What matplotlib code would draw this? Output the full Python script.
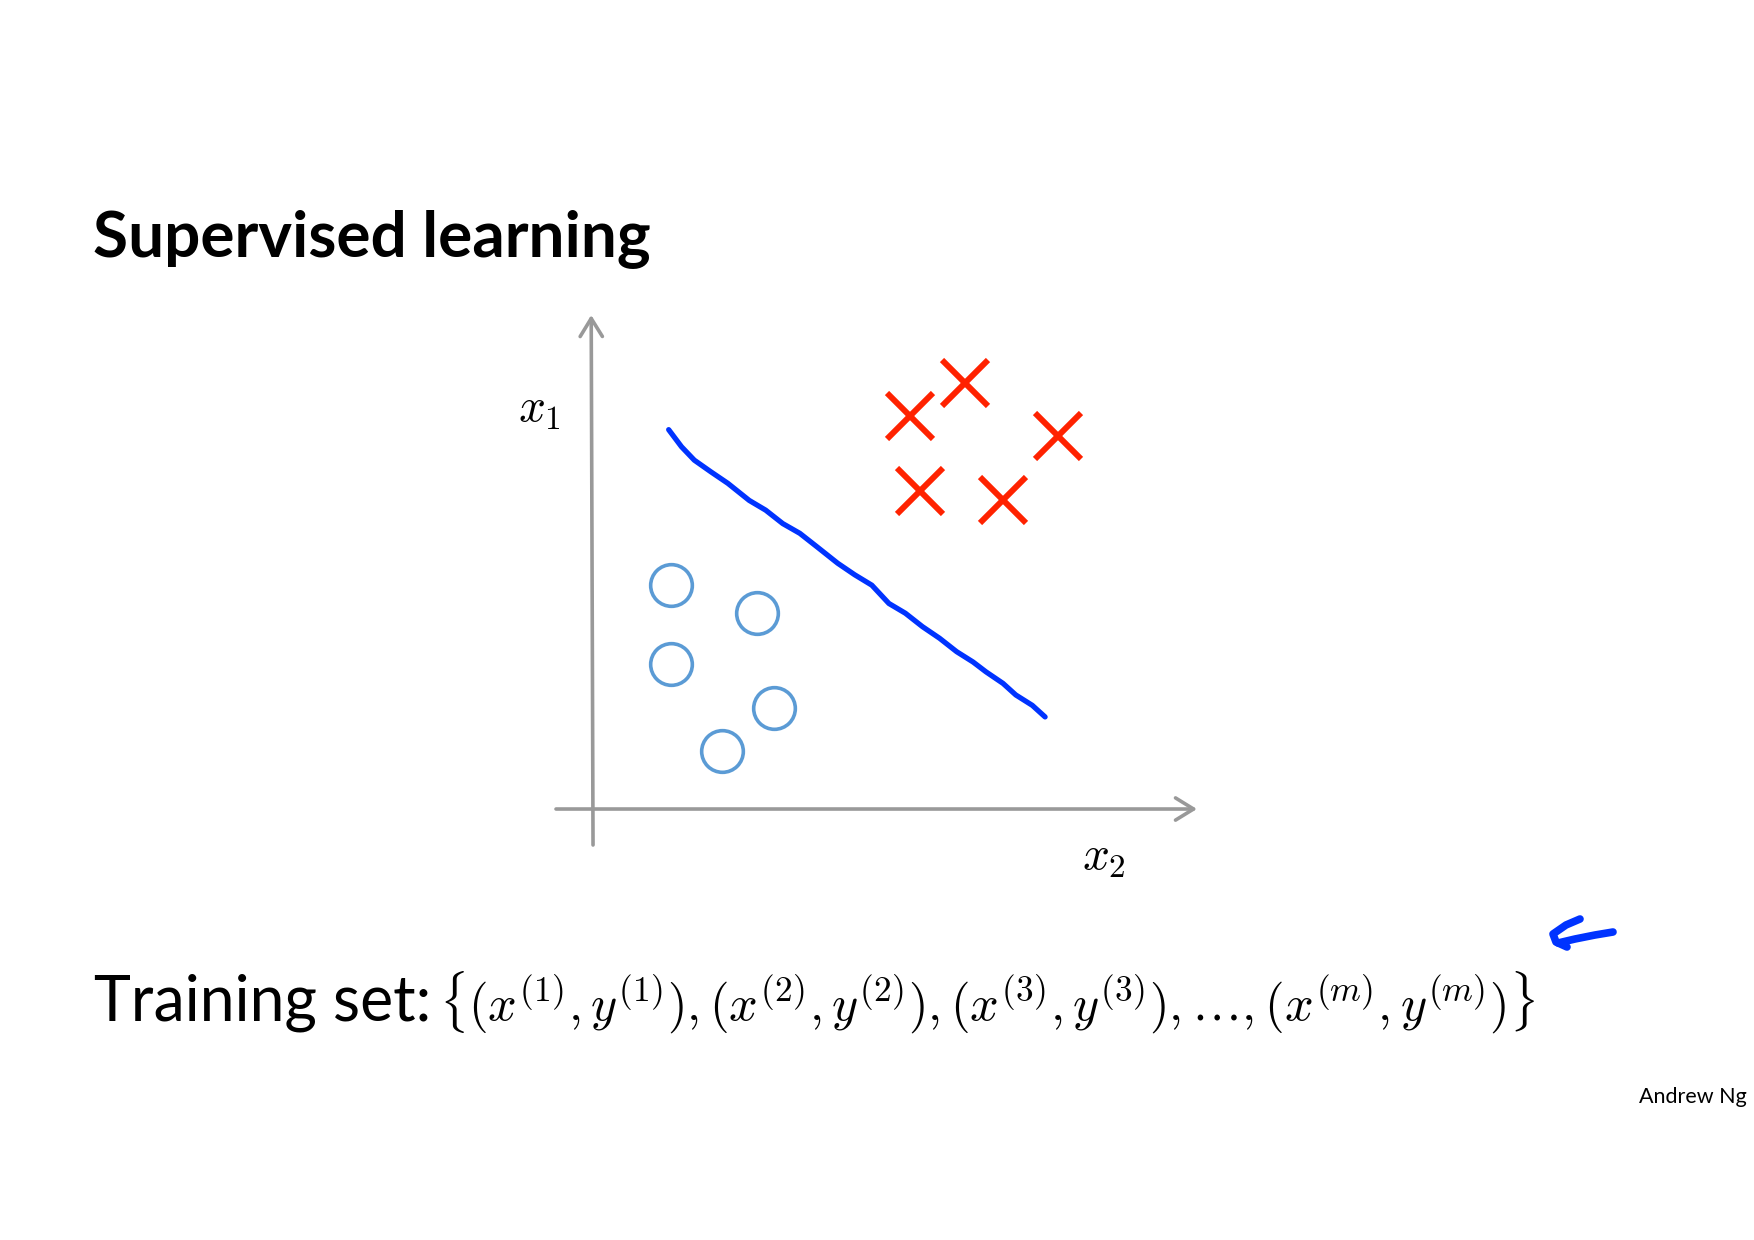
import numpy as np
import matplotlib
matplotlib.use("Agg")
import matplotlib.pyplot as plt

plt.rcParams['font.family'] = ['Lato', 'DejaVu Sans']
plt.rcParams['mathtext.fontset'] = 'cm'

W, H = 1754, 1240

# class 1 (crosses) and class 0 (circles), in x2 / x1 units
cross_x2 = [5.19, 6.10, 7.62, 5.36, 6.72]
cross_x1 = [6.44, 6.98, 6.11, 5.21, 5.06]
circle_x2 = [1.27, 2.69, 1.27, 2.97, 2.12]
circle_x1 = [3.67, 3.21, 2.38, 1.65, 0.95]

# hand drawn decision boundary
line_x2 = [1.24, 1.45, 1.66, 1.93, 2.21, 2.56, 2.83, 3.11, 3.39, 3.67, 4.01, 4.29,
           4.57, 4.85, 5.12, 5.40, 5.68, 5.96, 6.23, 6.44, 6.72, 6.93, 7.20, 7.41]
line_x1 = [6.22, 5.94, 5.72, 5.53, 5.34, 5.06, 4.90, 4.68, 4.52, 4.30, 4.03, 3.84,
           3.67, 3.37, 3.21, 2.99, 2.80, 2.58, 2.41, 2.25, 2.06, 1.87, 1.70, 1.51]

# little pen arrow next to the training set (pixel coords of the slide)
pen_shaft_x = [1613, 1595, 1575, 1558]
pen_shaft_y = [932, 935, 939, 943]
pen_hook_x = [1580, 1566, 1553, 1556, 1567]
pen_hook_y = [919, 925, 934, 942, 947]

title = "Supervised learning"
train_label = "Training set:"
train_math = (r"$\{(x^{(1)},y^{(1)}),(x^{(2)},y^{(2)}),(x^{(3)},y^{(3)}),"
              r"\ldots,(x^{(m)},y^{(m)})\}$")

fig = plt.figure(figsize=(W / 100, H / 100), dpi=100)
fig.patch.set_facecolor('white')

# overlay in slide pixels for the pen stroke
over = fig.add_axes([0, 0, 1, 1])
over.set_xlim(0, W)
over.set_ylim(H, 0)
over.axis('off')
over.plot(pen_shaft_x, pen_shaft_y, color='#0033ff', lw=5.5, solid_capstyle='round')
over.plot(pen_hook_x, pen_hook_y, color='#0033ff', lw=5.5, solid_capstyle='round',
          solid_joinstyle='round')

# the scatter plot
ax = fig.add_axes([556 / W, 1 - 845 / H, (1197 - 556) / W, (845 - 315) / H])
ax.set_xlim(-0.607, 9.90)
ax.set_ylim(-0.59, 8.10)
ax.axis('off')

gray = '#999999'
ax.annotate('', xy=(9.90, 0), xytext=(-0.607, 0),
            arrowprops=dict(arrowstyle='->,head_length=0.65,head_width=0.4',
                            color=gray, lw=2.6, shrinkA=0, shrinkB=0,
                            mutation_scale=20))
ax.annotate('', xy=(-0.03, 8.10), xytext=(0, -0.59),
            arrowprops=dict(arrowstyle='->,head_length=0.65,head_width=0.4',
                            color=gray, lw=2.6, shrinkA=0, shrinkB=0,
                            mutation_scale=20))

ax.plot(line_x2, line_x1, color='#0033ff', lw=3.8, solid_capstyle='round')
ax.plot(cross_x2, cross_x1, 'x', color='#ff2200', ms=33, mew=4.3)
ax.plot(circle_x2, circle_x1, 'o', mfc='none', mec='#5b9bd5', ms=30, mew=2.6)

fig.text(518 / W, 1 - 422 / H, r'$x_1$', fontsize=34, va='baseline')
fig.text(1082 / W, 1 - 870 / H, r'$x_2$', fontsize=34, va='baseline')

fig.text(93 / W, 1 - 256 / H, title, fontsize=46, fontweight='bold', va='baseline')
fig.text(94 / W, 1 - 1021 / H, train_label, fontsize=45, va='baseline')
fig.text(439 / W, 1 - 1021 / H, train_math, fontsize=36.3, va='baseline')
fig.text(1747 / W, 1 - 1103 / H, "Andrew Ng", fontsize=15.5, ha='right', va='baseline')

fig.savefig('out.png', dpi=100, facecolor='white')
